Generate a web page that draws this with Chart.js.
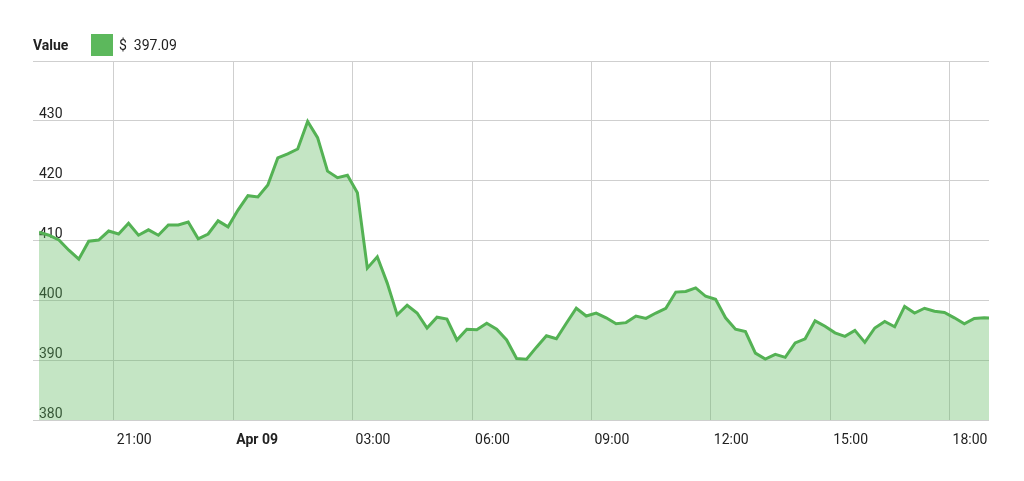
<!DOCTYPE html>
<html>
<head>
<meta charset="utf-8">
<script src="https://cdn.jsdelivr.net/npm/chart.js@4"></script>
<style>
  html, body { margin: 0; padding: 0; background: #fff; }
  #wrap { position: relative; width: 1024px; height: 481px; font-family: Roboto, "Liberation Sans", sans-serif; color: #222; }
  #legend { position: absolute; left: 33px; top: 34px; height: 22px; display: flex; align-items: center; font-size: 14px; }
  #legend .name { font-weight: bold; width: 58px; }
  #legend .box { width: 22px; height: 22px; background: #5cb85c; margin-right: 6px; }
  canvas { position: absolute; left: 0; top: 0; }
</style>
</head>
<body>
<div id="wrap">
  <canvas id="priceChart" width="1024" height="481"></canvas>
  <div id="legend"><span class="name">Value</span><span class="box"></span><span>$&nbsp;&nbsp;397.09</span></div>
</div>
<script>
// 15-minute samples, hours relative to Apr 09 00:00
const startHour = -4.88;
const stepHours = 0.25;
const lastHour = 18.99;
const values = [
  411.4, 410.9, 410.1, 408.4, 406.9, 409.9, 410.1, 411.6, 411.1, 412.9,
  410.9, 411.8, 410.9, 412.6, 412.6, 413.1, 410.3, 411.1, 413.3, 412.3,
  415.1, 417.5, 417.3, 419.3, 423.8, 424.5, 425.3, 429.9, 427.2, 421.6,
  420.5, 420.9, 418.0, 405.4, 407.3, 402.9, 397.6, 399.2, 397.9, 395.4,
  397.2, 396.9, 393.4, 395.2, 395.1, 396.2, 395.2, 393.4, 390.3, 390.2,
  392.2, 394.1, 393.6, 396.2, 398.7, 397.4, 397.9, 397.1, 396.1, 396.3,
  397.4, 397.0, 397.9, 398.7, 401.4, 401.5, 402.1, 400.7, 400.2, 397.1,
  395.2, 394.8, 391.2, 390.2, 391.0, 390.5, 392.9, 393.6, 396.6, 395.7,
  394.6, 394.0, 395.0, 393.0, 395.4, 396.5, 395.6, 399.0, 397.9, 398.7,
  398.2, 398.0, 397.1, 396.1, 397.0, 397.1
];
const lastValue = 397.09;
const xTicks = [-3, 0, 3, 6, 9, 12, 15, 18];
const yTicks = [380, 390, 400, 410, 420, 430, 440];

const points = values.map((v, i) => ({ x: startHour + i * stepHours, y: v }));
points.push({ x: lastHour, y: lastValue });

function hourLabel(h) {
  if (h === 0) return 'Apr 09';
  const hh = ((h % 24) + 24) % 24;
  return String(hh).padStart(2, '0') + ':00';
}

const ctx = document.getElementById('priceChart').getContext('2d');
new Chart(ctx, {
  type: 'line',
  data: {
    datasets: [{
      label: 'Value',
      data: points,
      borderColor: '#54b254',
      backgroundColor: 'rgba(92,184,92,0.36)',
      borderWidth: 3,
      pointRadius: 0,
      tension: 0,
      fill: 'start',
    }]
  },
  options: {
    responsive: false,
    animation: false,
    layout: { padding: { left: 33, right: 35, top: 61, bottom: 20 } },
    plugins: { legend: { display: false }, tooltip: { enabled: false } },
    scales: {
      x: {
        type: 'linear',
        min: startHour,
        max: lastHour,
        afterBuildTicks: axis => { axis.ticks = xTicks.map(v => ({ value: v })); },
        grid: { color: '#cfcfcf', drawTicks: false },
        border: { display: false },
        ticks: {
          align: 'start',
          labelOffset: 3,
          padding: 12,
          color: '#222',
          font: c => ({ family: 'Roboto', size: 14, weight: c.tick && c.tick.value === 0 ? 'bold' : 'normal' }),
          callback: v => hourLabel(v),
          maxRotation: 0,
          autoSkip: false,
        }
      },
      y: {
        min: 380,
        max: 440,
        afterBuildTicks: axis => { axis.ticks = yTicks.map(v => ({ value: v })); },
        grid: { color: '#cfcfcf', tickLength: 6 },
        border: { display: false },
        ticks: {
          mirror: true,
          padding: 0,
          labelOffset: -6,
          color: '#222',
          font: { family: 'Roboto', size: 14 },
          callback: v => (v === 440 ? '' : v),
        }
      }
    }
  }
});
</script>
</body>
</html>
